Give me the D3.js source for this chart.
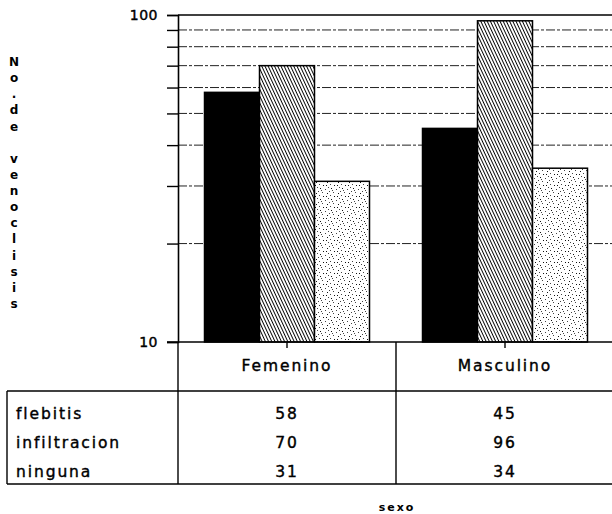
<!DOCTYPE html>
<html>
<head>
<meta charset="utf-8">
<script src="https://cdn.jsdelivr.net/npm/d3@7"></script>
<style>
  body { margin: 0; background: #fff; }
  svg text { font-family: "DejaVu Sans", sans-serif; fill: #000; }
</style>
</head>
<body>
<div id="container"></div>
<script>
// data
var categories = ["Femenino", "Masculino"];
var series = ["flebitis", "infiltracion", "ninguna"];
var flebitis = [58, 45];
var infiltracion = [70, 96];
var ninguna = [31, 34];
var yTicks = [10, 20, 30, 40, 50, 60, 70, 80, 90, 100];
var yTitle = "No.de venoclisis";
var xTitle = "sexo";

var values = [flebitis, infiltracion, ninguna];

var width = 612, height = 514;

var svg = d3.select("#container").append("svg")
	.attr("width", width)
	.attr("height", height);

// patterns for the bars
var defs = svg.append("defs");
var hatch = defs.append("pattern")
	.attr("id", "hatch")
	.attr("patternUnits", "userSpaceOnUse")
	.attr("width", 2.9).attr("height", 2.9)
	.attr("patternTransform", "rotate(-25)");
hatch.append("rect").attr("width", 2.9).attr("height", 2.9).attr("fill", "#fff");
hatch.append("line")
	.attr("x1", 0).attr("y1", 0).attr("x2", 0).attr("y2", 2.9)
	.attr("stroke", "#000").attr("stroke-width", 1.9);

var dots = defs.append("pattern")
	.attr("id", "dots")
	.attr("patternUnits", "userSpaceOnUse")
	.attr("width", 11).attr("height", 11);
dots.append("rect").attr("width", 11).attr("height", 11).attr("fill", "#fff");
[[1, 1], [6, 2], [3, 5], [8, 6], [0, 8], [9, 0], [4, 9], [10, 4], [2, 3], [7, 9]].forEach(function(p, i) {
	dots.append("rect")
		.attr("x", p[0]).attr("y", p[1])
		.attr("width", 1).attr("height", 1)
		.attr("fill", i % 3 ? "#444" : "#111");
});

var fills = ["#000", "url(#hatch)", "url(#dots)"];

// scales
var plotLeft = 178, plotRight = 614, plotTop = 15, plotBottom = 342;

var y = d3.scaleLog()
	.domain([10, 100])
	.range([plotBottom, plotTop]);

var x = d3.scaleBand()
	.domain(categories)
	.range([plotLeft, plotRight]);

var groupWidth = 165;
var xInner = d3.scaleBand()
	.domain(series)
	.range([0, groupWidth]);

// gridlines
svg.append("g")
	.selectAll("line")
	.data(yTicks.filter(function(d) { return d > 10 && d < 100; }))
	.enter().append("line")
	.attr("x1", plotLeft).attr("x2", plotRight)
	.attr("y1", function(d) { return y(d); })
	.attr("y2", function(d) { return y(d); })
	.attr("stroke", "#222")
	.attr("stroke-width", 1)
	.attr("stroke-dasharray", "9,2,3,2");

// top border line
svg.append("line")
	.attr("x1", plotLeft).attr("x2", plotRight)
	.attr("y1", y(100)).attr("y2", y(100))
	.attr("stroke", "#000").attr("stroke-width", 1.6);

// bars
var rows = [];
series.forEach(function(s, i) {
	categories.forEach(function(c, j) {
		rows.push({ series: s, cat: c, value: values[i][j], idx: i });
	});
});

svg.append("g")
	.selectAll("rect")
	.data(rows)
	.enter().append("rect")
	.attr("x", function(d) { return x(d.cat) + (x.bandwidth() - groupWidth) / 2 + xInner(d.series); })
	.attr("y", function(d) { return y(d.value); })
	.attr("width", xInner.bandwidth())
	.attr("height", function(d) { return y(10) - y(d.value); })
	.attr("fill", function(d) { return fills[d.idx]; })
	.attr("stroke", "#000")
	.attr("stroke-width", 1.5);

// y axis
var yAxis = svg.append("g")
	.attr("transform", "translate(" + plotLeft + ",0)")
	.call(d3.axisLeft(y)
		.tickValues(yTicks)
		.tickSize(11)
		.tickPadding(9)
		.tickFormat(function(d) { return (d === 10 || d === 100) ? d : ""; }));
yAxis.select(".domain").attr("stroke", "#000").attr("stroke-width", 1.6);
yAxis.selectAll(".tick line").attr("stroke", "#000").attr("stroke-width", 1.4);
yAxis.selectAll(".tick text")
	.style("font-size", "14px")
	.style("letter-spacing", "0.5px")
	.attr("stroke", "#000")
	.attr("stroke-width", 0.4);

// x axis line and ticks at category centers
var xAxis = svg.append("g")
	.attr("transform", "translate(0," + plotBottom + ")")
	.call(d3.axisBottom(x).tickSize(6).tickFormat(""));
xAxis.select(".domain").attr("d", "M" + (plotLeft - 11) + ",0H" + plotRight)
	.attr("stroke", "#000").attr("stroke-width", 1.6);
xAxis.selectAll(".tick line").attr("stroke", "#000").attr("stroke-width", 1.4);

// data table under the chart
var tableLeft = 7, headerLine = 391, tableBottom = 484;
var rowY = d3.scalePoint()
	.domain(series)
	.range([414, 472]);

var tbl = svg.append("g")
	.attr("stroke", "#000")
	.attr("stroke-width", 1.4);
tbl.append("line").attr("x1", tableLeft).attr("x2", plotRight).attr("y1", headerLine).attr("y2", headerLine);
tbl.append("line").attr("x1", tableLeft).attr("x2", plotRight).attr("y1", tableBottom).attr("y2", tableBottom);
tbl.append("line").attr("x1", tableLeft).attr("x2", tableLeft).attr("y1", headerLine).attr("y2", tableBottom);
tbl.selectAll(".col")
	.data(categories)
	.enter().append("line")
	.attr("x1", function(d) { return x(d); })
	.attr("x2", function(d) { return x(d); })
	.attr("y1", plotBottom)
	.attr("y2", tableBottom);

var labelStyle = function(sel) {
	sel.style("font-size", "15.5px")
		.style("letter-spacing", "1.9px")
		.attr("stroke", "#000")
		.attr("stroke-width", 0.4)
		.attr("dominant-baseline", "central");
};

// column headers
svg.append("g").selectAll("text")
	.data(categories)
	.enter().append("text")
	.attr("x", function(d) { return x(d) + x.bandwidth() / 2; })
	.attr("y", 366)
	.attr("text-anchor", "middle")
	.text(function(d) { return d; })
	.call(labelStyle);

// row labels
svg.append("g").selectAll("text")
	.data(series)
	.enter().append("text")
	.attr("x", 16)
	.attr("y", function(d) { return rowY(d); })
	.text(function(d) { return d; })
	.call(labelStyle);

// cell values
svg.append("g").selectAll("text")
	.data(rows)
	.enter().append("text")
	.attr("x", function(d) { return x(d.cat) + x.bandwidth() / 2; })
	.attr("y", function(d) { return rowY(d.series); })
	.attr("text-anchor", "middle")
	.text(function(d) { return d.value; })
	.call(labelStyle);

// x title
svg.append("text")
	.attr("x", 397)
	.attr("y", 507)
	.attr("text-anchor", "middle")
	.attr("dominant-baseline", "central")
	.style("font-size", "11px")
	.style("font-weight", "bold")
	.style("letter-spacing", "2px")
	.text(xTitle);

// y title, one upright letter under the other
var letters = yTitle.split("");
var letterY = d3.scalePoint()
	.domain(d3.range(letters.length))
	.range([62, 304]);
svg.append("g").selectAll("text")
	.data(letters)
	.enter().append("text")
	.attr("x", 14)
	.attr("y", function(d, i) { return letterY(i); })
	.attr("text-anchor", "middle")
	.attr("dominant-baseline", "central")
	.style("font-size", "12px")
	.style("font-weight", "bold")
	.text(function(d) { return d; });
</script>
</body>
</html>
